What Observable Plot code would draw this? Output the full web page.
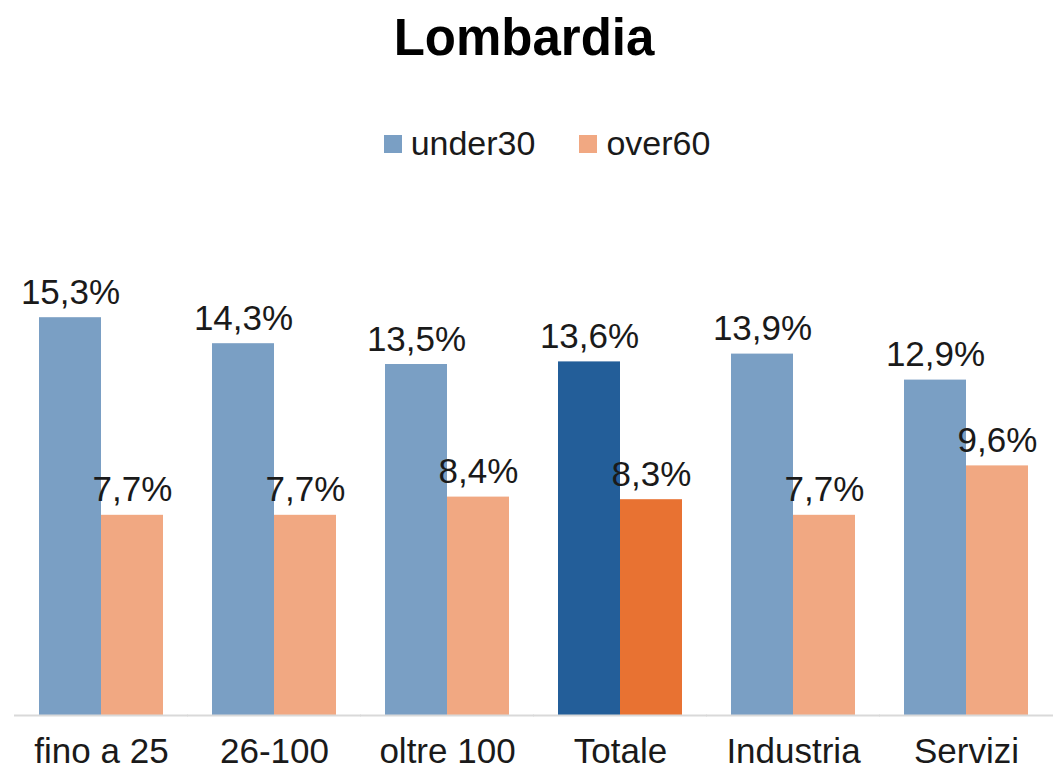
<!DOCTYPE html>
<html>
<head>
<meta charset="utf-8">
<script src="https://cdn.jsdelivr.net/npm/d3@7"></script>
<script src="https://cdn.jsdelivr.net/npm/@observablehq/plot@0.6"></script>
<style>
  html, body { margin: 0; padding: 0; background: #fff; }
  body { width: 1054px; font-family: "Liberation Sans", Arial, sans-serif; color: #1a1a1a; }
  #title { box-sizing: border-box; height: 80px; padding-top: 3px; line-height: 70px; font-size: 51px; font-weight: bold; text-align: center; color: #000; padding-right: 6px; }
  #legend { box-sizing: border-box; height: 100px; padding-top: 43px; line-height: 40px; font-size: 34px; text-align: center; padding-left: 40px; white-space: nowrap; }
  .sw { display: inline-block; width: 18px; height: 18px; margin-bottom: 2px; margin-right: 9px; vertical-align: baseline; }
  .item { display: inline-block; }
  .item + .item { margin-left: 44px; }
</style>
</head>
<body>
<div id="title">Lombardia</div>
<div id="legend"></div>
<div id="chart"></div>
<script>
const categories = ["fino a 25", "26-100", "oltre 100", "Totale", "Industria", "Servizi"];
const seriesNames = ["under30", "over60"];
const under30 = [15.3, 14.3, 13.5, 13.6, 13.9, 12.9];
const over60 = [7.7, 7.7, 8.4, 8.3, 7.7, 9.6];
const highlight = "Totale";

const lightColors = {under30: "#7A9FC4", over60: "#F1A882"};
const darkColors = {under30: "#235E99", over60: "#E87232"};

const rows = [];
categories.forEach((c, i) => {
  rows.push({cat: c, series: "under30", value: under30[i]});
  rows.push({cat: c, series: "over60", value: over60[i]});
});
const colorOf = d => (d.cat === highlight ? darkColors : lightColors)[d.series];
const fmt = v => v.toFixed(1).replace(".", ",") + "%";

// legend
const legend = document.getElementById("legend");
seriesNames.forEach(s => {
  const item = document.createElement("span");
  item.className = "item";
  const sw = document.createElement("span");
  sw.className = "sw";
  sw.style.background = lightColors[s];
  item.appendChild(sw);
  item.appendChild(document.createTextNode(s));
  legend.appendChild(item);
});

const chart = Plot.plot({
  width: 1054,
  height: 592,
  marginLeft: 13,
  marginRight: 0,
  marginTop: 67,
  marginBottom: 57,
  style: {fontFamily: "'Liberation Sans', Arial, sans-serif", fontSize: "35px", color: "#1a1a1a", background: "#fff"},
  fx: {domain: categories, paddingInner: 0.285, paddingOuter: 0.1425, label: null, tickSize: 0, tickPadding: 23},
  x: {domain: seriesNames, padding: 0, axis: null},
  y: {domain: [0, 18], axis: null},
  color: {type: "identity"},
  marks: [
    Plot.barY(rows, {fx: "cat", x: "series", y: "value", fill: colorOf}),
    Plot.text(rows, {fx: "cat", x: "series", y: "value", text: d => fmt(d.value), lineAnchor: "bottom", dy: -14, fill: "#1a1a1a", fontSize: 35}),
    Plot.ruleY([0], {stroke: "#d9d9d9", strokeWidth: 2, insetLeft: -25, insetRight: -25})
  ]
});
document.getElementById("chart").appendChild(chart);
</script>
</body>
</html>
